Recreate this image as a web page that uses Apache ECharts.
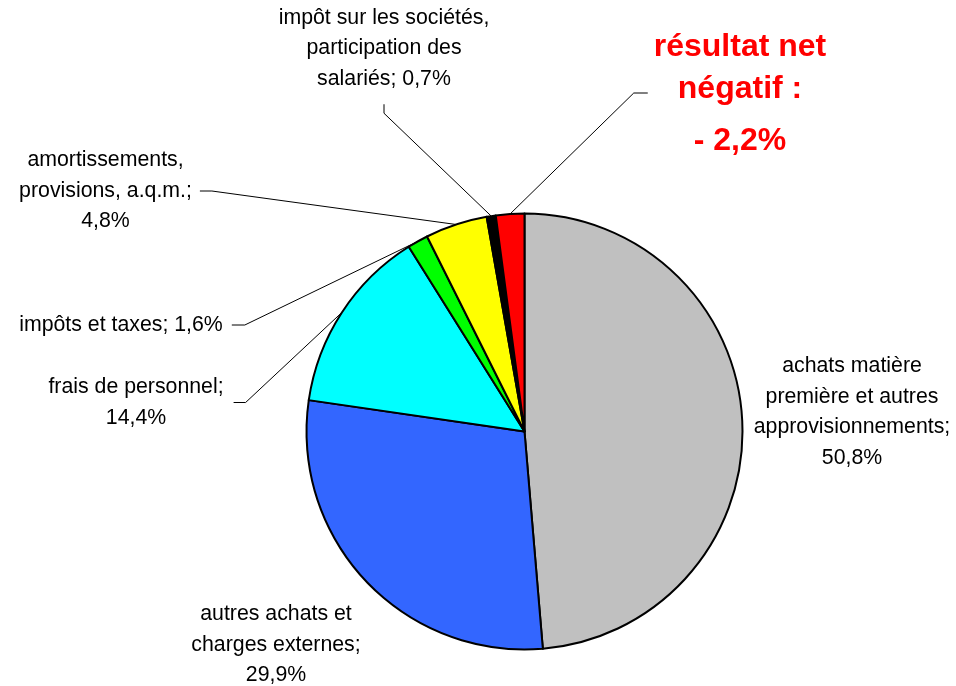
<!DOCTYPE html>
<html><head><meta charset="utf-8">
<script src="https://cdn.jsdelivr.net/npm/echarts@6/dist/echarts.min.js"></script>
<style>html,body{margin:0;padding:0;background:#fff}#c{width:956px;height:686px}</style>
</head><body><div id="c"></div>
<script>
// ---- data ----
const categories = [
  'achats matière\npremière et autres\napprovisionnements',
  'autres achats et\ncharges externes',
  'frais de personnel',
  'impôts et taxes',
  'amortissements,\nprovisions, a.q.m.',
  'impôt sur les sociétés,\nparticipation des\nsalariés',
  'résultat net\nnégatif :'
];
const values = [50.8, 29.9, 14.4, 1.6, 4.8, 0.7, 2.2];
const valuePrefix = ['', '', '', '', '', '', '- '];
const valueSeparators = [';\n', ';\n', ';\n', '; ', ';\n', '; ', '\n'];
const colors = ['#C0C0C0', '#3366FF', '#00FFFF', '#00FF00', '#FFFF00', '#000000', '#FF0000'];

// ---- layout (positions / styles) ----
const labelCenters = [[852, 412], [276, 645], [136, 402.5], [121, 325], [105.5, 191], [384, 48.5], [740, 93]];
const labelPadding = [0, 0, [0, 10], [0, 9], [0, 8], [10, 0], [12, 6, 0, 6]];
const guideLength = [0, 0, 12, 13, 12, 9, 14];
const FONT = '"Liberation Sans", Arial, Helvetica, sans-serif';

function fmt(v) { return v.toFixed(1).replace('.', ',') + '%'; }
function labelText(i) {
  return categories[i] + valueSeparators[i] + valuePrefix[i] + fmt(values[i]);
}

const chart = echarts.init(document.getElementById('c'));
chart.setOption({
  backgroundColor: '#ffffff',
  animation: false,
  series: [{
    type: 'pie',
    center: [524.5, 431.5],
    radius: 218,
    startAngle: 90,
    clockwise: true,
    avoidLabelOverlap: false,
    emphasis: { disabled: true },
    itemStyle: { borderColor: '#000', borderWidth: 2 },
    label: {
      show: true,
      position: 'outside',
      color: '#000',
      fontFamily: FONT,
      fontSize: 21.3,
      lineHeight: 30.5,
      backgroundColor: 'transparent',
      formatter: function (p) {
        const i = p.dataIndex;
        const t = labelText(i);
        if (i === 6) {
          const lines = t.split('\n');
          return lines.map((l, k) => (k === lines.length - 1 ? '{b|' : '{a|') + l + '}').join('\n');
        }
        return t;
      }
    },
    labelLine: { show: true, length: 10, length2: 10, smooth: false, lineStyle: { color: '#000', width: 1 } },
    labelLayout: function (p) {
      const c = labelCenters[p.dataIndex];
      return { x: c[0], y: c[1], align: 'center', verticalAlign: 'middle' };
    },
    data: values.map((v, i) => ({
      value: v,
      name: categories[i],
      itemStyle: { color: colors[i] },
      label: i === 6 ? {
        padding: labelPadding[i],
        rich: {
          a: { color: '#FF0000', fontWeight: 'bold', fontSize: 32, lineHeight: 42, fontFamily: FONT },
          b: { color: '#FF0000', fontWeight: 'bold', fontSize: 32, lineHeight: 62, fontFamily: FONT }
        }
      } : { padding: labelPadding[i] },
      labelLine: { show: guideLength[i] > 0, length2: guideLength[i] }
    }))
  }]
});
</script>
</body></html>
